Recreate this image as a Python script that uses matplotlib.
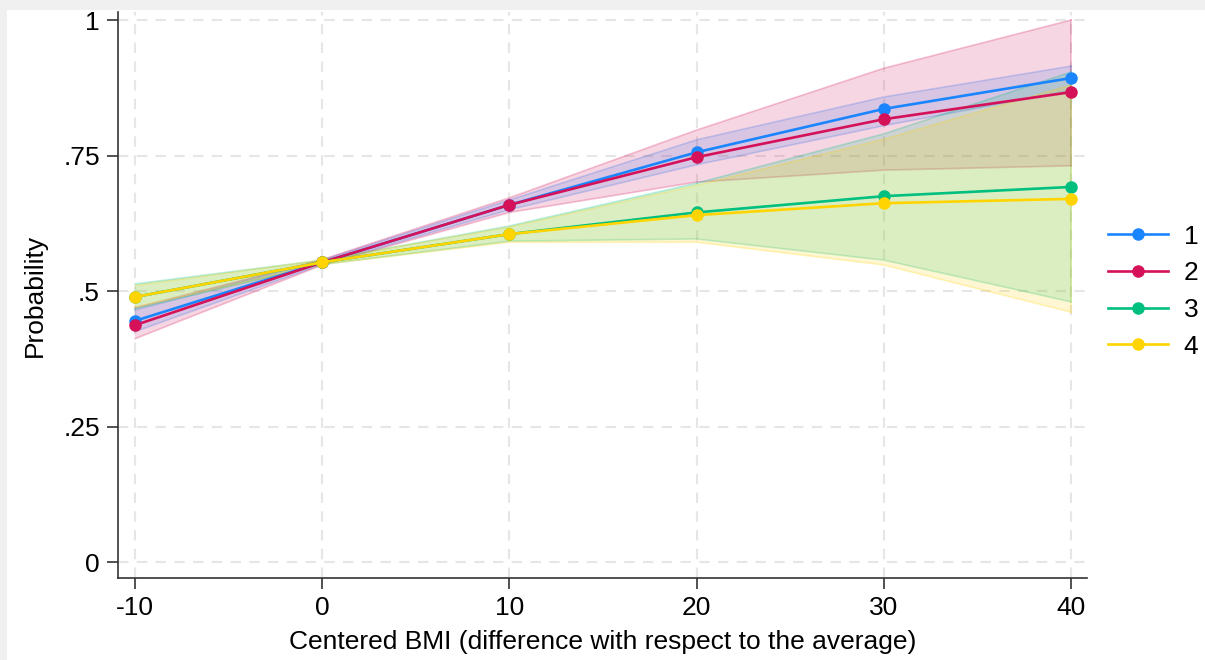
import matplotlib
matplotlib.use("Agg")
import matplotlib.pyplot as plt
from matplotlib.patches import Rectangle

plt.rcParams["font.family"] = ["Liberation Sans", "DejaVu Sans"]

bmi = [-10, 0, 10, 20, 30, 40]
groups = ["1", "2", "3", "4"]
colors = ["#1a85ff", "#d41159", "#00bf7f", "#ffd400"]

prob = {
    "1": [0.445, 0.553, 0.659, 0.756, 0.836, 0.893],
    "2": [0.437, 0.553, 0.659, 0.747, 0.817, 0.867],
    "3": [0.489, 0.553, 0.605, 0.645, 0.675, 0.692],
    "4": [0.489, 0.553, 0.605, 0.640, 0.662, 0.670],
}
lower = {
    "1": [0.425, 0.549, 0.650, 0.733, 0.805, 0.870],
    "2": [0.412, 0.548, 0.645, 0.701, 0.723, 0.731],
    "3": [0.467, 0.549, 0.592, 0.596, 0.557, 0.480],
    "4": [0.470, 0.549, 0.590, 0.590, 0.548, 0.461],
}
upper = {
    "1": [0.465, 0.557, 0.668, 0.779, 0.858, 0.915],
    "2": [0.469, 0.558, 0.672, 0.797, 0.911, 1.000],
    "3": [0.513, 0.557, 0.620, 0.699, 0.790, 0.904],
    "4": [0.510, 0.557, 0.618, 0.695, 0.780, 0.880],
}

fs = 19

fig = plt.figure(figsize=(12.05, 6.6), dpi=100)
fig.patches.append(Rectangle((0, 1 - 10 / 660), 1, 10 / 660, transform=fig.transFigure,
                             facecolor="#f0f0f0", edgecolor="none", zorder=-5))
fig.patches.append(Rectangle((0, 0), 7 / 1205, 1, transform=fig.transFigure,
                             facecolor="#f0f0f0", edgecolor="none", zorder=-5))

ax = fig.add_axes([118 / 1205, 1 - 578 / 660, (1087 - 118) / 1205, (578 - 12) / 660])

for g, c in zip(groups, colors):
    ax.fill_between(bmi, lower[g], upper[g], facecolor=c, alpha=0.17, edgecolor="none", zorder=1)
    ax.plot(bmi, lower[g], color=c, alpha=0.25, lw=1.2, zorder=1)
    ax.plot(bmi, upper[g], color=c, alpha=0.25, lw=1.2, zorder=1)
    ax.plot([bmi[-1], bmi[-1]], [lower[g][-1], upper[g][-1]], color=c, alpha=0.25, lw=1.2, zorder=1)

for g, c in zip(groups, colors):
    ax.plot(bmi, prob[g], "-o", color=c, lw=1.9, ms=8, label=g, zorder=3)

ax.set_xlim(-10.91, 40.85)
ax.set_ylim(-0.0295, 1.0148)
ax.set_xticks(bmi)
ax.set_xticklabels(["-10", "0", "10", "20", "30", "40"])
ax.set_yticks([0, 0.25, 0.5, 0.75, 1])
ax.set_yticklabels(["0", ".25", ".5", ".75", "1"])
ax.grid(True, color="#e6e6e6", lw=1.5, ls=(0, (5, 4)), zorder=0)
ax.set_axisbelow(True)

for s in ["top", "right"]:
    ax.spines[s].set_visible(False)
for s in ["left", "bottom"]:
    ax.spines[s].set_color("#333333")
    ax.spines[s].set_linewidth(1.2)
ax.tick_params(direction="out", length=8, width=1.2, color="#333333", labelsize=fs, pad=5)

ax.set_xlabel("Centered BMI (difference with respect to the average)", fontsize=fs, labelpad=7)
ax.set_ylabel("Probability", fontsize=fs, labelpad=12)

fig.legend(loc="center left", bbox_to_anchor=(1108 / 1205, 1 - 291.5 / 660), frameon=False,
           fontsize=fs, handlelength=2.27, labelspacing=0.48, handletextpad=0.6,
           borderpad=0, borderaxespad=0)

fig.savefig("out.png", dpi=100, facecolor="white")
